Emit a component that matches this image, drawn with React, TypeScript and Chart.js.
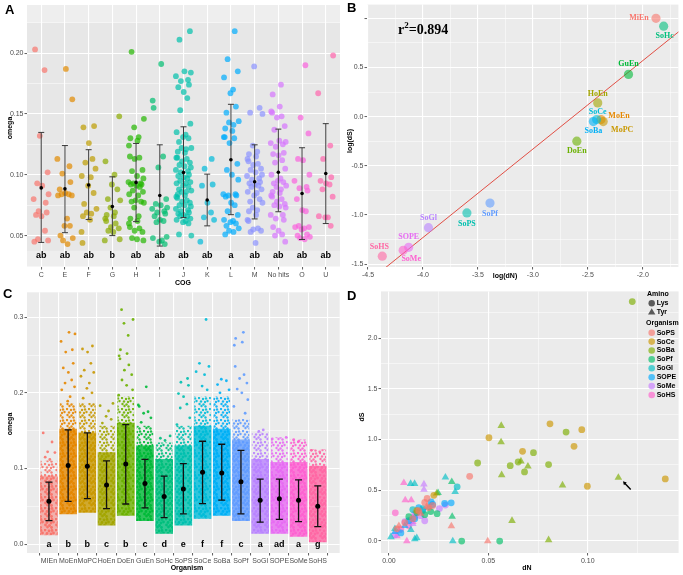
import React, { useEffect, useRef } from "react";
import { Chart, registerables } from "chart.js";
Chart.register(...registerables);

const SANS = "'Liberation Sans', Arial, Helvetica, sans-serif";
const SERIF = "'Liberation Serif', 'Times New Roman', serif";

// ---------------- Panel A data (omega by COG) ----------------
const A_CATS = ["C", "E", "F", "G", "H", "I", "J", "K", "L", "M", "No hits", "O", "U"];
const A_COLORS = ["#F8766D", "#E18A00", "#BE9C00", "#8CAB00", "#24B700", "#00BE70", "#00C1AB", "#00BBDA", "#00ACFC", "#8B93FF", "#D575FE", "#F962DD", "#FF65AC"];
const A_C = [0.203, 0.186, 0.132, 0.102, 0.093, 0.091, 0.084, 0.080, 0.077, 0.070, 0.069, 0.067, 0.066, 0.054, 0.047, 0.046, 0.045];
const A_E = [0.187, 0.162, 0.113, 0.107, 0.101, 0.094, 0.088, 0.085, 0.084, 0.084, 0.083, 0.083, 0.064, 0.058, 0.058, 0.050, 0.048, 0.046, 0.043];
const A_F = [0.140, 0.139, 0.126, 0.113, 0.110, 0.105, 0.099, 0.098, 0.091, 0.085, 0.076, 0.072, 0.069, 0.068, 0.066, 0.063, 0.053, 0.044];
const A_G = [0.148, 0.111, 0.100, 0.092, 0.088, 0.080, 0.079, 0.073, 0.069, 0.067, 0.066, 0.064, 0.062, 0.060, 0.057, 0.056, 0.054, 0.053, 0.047, 0.046];
const A_H = [0.201, 0.146, 0.139, 0.131, 0.130, 0.128, 0.124, 0.115, 0.114, 0.113, 0.104, 0.103, 0.099, 0.097, 0.094, 0.093, 0.093, 0.092, 0.092, 0.091, 0.090, 0.087, 0.086, 0.084, 0.083, 0.079, 0.078, 0.078, 0.077, 0.073, 0.066, 0.064, 0.062, 0.060, 0.057, 0.056, 0.054, 0.053, 0.048, 0.047, 0.046];
const A_I = [0.191, 0.161, 0.155, 0.115, 0.106, 0.080, 0.076, 0.075, 0.073, 0.072, 0.070, 0.069, 0.068, 0.066, 0.063, 0.062, 0.061, 0.049, 0.048, 0.046, 0.045, 0.043];
const A_J = [0.218, 0.211, 0.185, 0.184, 0.181, 0.178, 0.177, 0.174, 0.172, 0.168, 0.163, 0.153, 0.142, 0.135, 0.133, 0.131, 0.130, 0.127, 0.122, 0.122, 0.121, 0.119, 0.118, 0.114, 0.114, 0.113, 0.111, 0.110, 0.108, 0.107, 0.106, 0.104, 0.103, 0.102, 0.100, 0.099, 0.098, 0.097, 0.095, 0.094, 0.093, 0.093, 0.091, 0.090, 0.088, 0.087, 0.086, 0.086, 0.084, 0.083, 0.082, 0.081, 0.079, 0.078, 0.077, 0.075, 0.075, 0.074, 0.072, 0.071, 0.070, 0.069, 0.068, 0.067, 0.066, 0.066, 0.064, 0.063, 0.062, 0.061, 0.060, 0.051, 0.050];
const A_K = [0.113, 0.105, 0.092, 0.091, 0.077, 0.069, 0.065, 0.063, 0.045];
const A_L = [0.218, 0.195, 0.185, 0.180, 0.170, 0.167, 0.156, 0.151, 0.144, 0.143, 0.141, 0.138, 0.136, 0.131, 0.131, 0.130, 0.126, 0.109, 0.104, 0.100, 0.096, 0.084, 0.084, 0.083, 0.083, 0.082, 0.077, 0.075, 0.070, 0.067, 0.063, 0.062, 0.061, 0.060, 0.058, 0.056, 0.054, 0.053, 0.051];
const A_M = [0.189, 0.155, 0.151, 0.150, 0.124, 0.119, 0.117, 0.115, 0.113, 0.111, 0.109, 0.108, 0.105, 0.104, 0.102, 0.100, 0.099, 0.097, 0.096, 0.094, 0.093, 0.092, 0.091, 0.090, 0.088, 0.086, 0.085, 0.083, 0.080, 0.078, 0.077, 0.073, 0.071, 0.070, 0.067, 0.063, 0.062, 0.056, 0.055, 0.054, 0.053, 0.044];
const A_NOHITS = [0.174, 0.166, 0.156, 0.152, 0.151, 0.148, 0.147, 0.140, 0.137, 0.128, 0.127, 0.126, 0.125, 0.123, 0.118, 0.117, 0.116, 0.112, 0.110, 0.105, 0.100, 0.097, 0.095, 0.094, 0.093, 0.091, 0.090, 0.088, 0.086, 0.085, 0.083, 0.082, 0.080, 0.078, 0.076, 0.075, 0.074, 0.073, 0.067, 0.067, 0.064, 0.063, 0.057, 0.054, 0.051, 0.050, 0.045];
const A_O = [0.190, 0.147, 0.134, 0.113, 0.112, 0.100, 0.095, 0.090, 0.089, 0.087, 0.080, 0.071, 0.070, 0.058, 0.057, 0.057, 0.056, 0.055, 0.051, 0.050, 0.049, 0.048, 0.047];
const A_U = [0.198, 0.167, 0.124, 0.113, 0.098, 0.095, 0.093, 0.092, 0.088, 0.082, 0.066, 0.065, 0.065, 0.058];
const A_VALUES = [A_C, A_E, A_F, A_G, A_H, A_I, A_J, A_K, A_L, A_M, A_NOHITS, A_O, A_U];
const A_MEAN = [0.0892, 0.0884, 0.0916, 0.0739, 0.0937, 0.083, 0.1018, 0.0793, 0.1123, 0.0943, 0.1021, 0.0846, 0.101];
const A_LO = [0.0444, 0.0524, 0.0632, 0.050, 0.0615, 0.0414, 0.0648, 0.058, 0.0672, 0.0637, 0.0696, 0.0468, 0.0599];
const A_HI = [0.1348, 0.124, 0.1206, 0.0983, 0.1257, 0.1246, 0.1394, 0.1005, 0.1579, 0.1246, 0.1375, 0.1222, 0.142];
const A_LETTERS = ["ab", "ab", "ab", "b", "ab", "ab", "ab", "ab", "a", "ab", "ab", "ab", "ab"];
const A_Y_MAJOR = [0.05, 0.10, 0.15, 0.20];
const A_Y_MINOR = [0.025, 0.075, 0.125, 0.175, 0.225];

// ---------------- Panel B data (log dS vs log dN) ----------------
const B_ORGS = ["MiEn", "MoEn", "MoPC", "HoEn", "DoEn", "GuEn", "SoHc", "SoPS", "SoCe", "SoBa", "SoPf", "SoGl", "SOPE", "SoMe", "SoHS"];
const B_LOGDN = [-1.88, -2.38, -2.36, -2.41, -2.60, -2.13, -1.81, -3.60, -2.42, -2.45, -3.39, -3.95, -4.13, -4.18, -4.37];
const B_LOGDS = [1.00, -0.03, -0.05, 0.14, -0.25, 0.43, 0.92, -0.98, -0.03, -0.05, -0.88, -1.13, -1.33, -1.36, -1.42];
const B_FIT_X = [-4.6, -1.6];
const B_FIT_Y = [-1.77, 0.93];
const B_R2 = "0.894";
const B_X_MAJOR = [-4.5, -4.0, -3.5, -3.0, -2.5, -2.0];
const B_X_MINOR = [-4.25, -3.75, -3.25, -2.75, -2.25, -1.75];
const B_Y_MAJOR = [-1.5, -1.0, -0.5, 0.0, 0.5, 1.0];
const B_Y_MINOR = [-1.25, -0.75, -0.25, 0.25, 0.75];

// ---------------- Panel C data (omega by organism) ----------------
const C_ORGS = ["MIEn", "MoEn", "MoPC", "HoEn", "DoEn", "GuEn", "SoHc", "SoPS", "SoCe", "SoBa", "SoPf", "SoGl", "SOPE", "SoMe", "SoHS"];
const C_COLORS = ["#F8766D", "#E58700", "#C99800", "#A3A500", "#6BB100", "#00BA38", "#00BF7D", "#00C0AF", "#00BCD8", "#00B0F6", "#619CFF", "#B983FF", "#E76BF3", "#FD61D1", "#FF67A4"];
const C_BODY_LO = [0.012, 0.040, 0.042, 0.025, 0.038, 0.031, 0.014, 0.025, 0.034, 0.038, 0.031, 0.014, 0.014, 0.010, 0.003];
const C_CORE_HI = [0.090, 0.152, 0.147, 0.121, 0.160, 0.130, 0.112, 0.130, 0.156, 0.152, 0.138, 0.112, 0.108, 0.108, 0.103];
const C_BODY_HI = [0.110, 0.186, 0.186, 0.156, 0.195, 0.156, 0.134, 0.156, 0.195, 0.195, 0.165, 0.147, 0.141, 0.138, 0.125];
const C_MEAN = [0.0565, 0.104, 0.103, 0.078, 0.106, 0.080, 0.063, 0.073, 0.095, 0.094, 0.0826, 0.058, 0.060, 0.058, 0.050];
const C_LO = [0.031, 0.0565, 0.060, 0.047, 0.053, 0.048, 0.035, 0.040, 0.0535, 0.058, 0.040, 0.029, 0.0326, 0.0296, 0.023];
const C_HI = [0.082, 0.151, 0.147, 0.110, 0.158, 0.112, 0.090, 0.1065, 0.136, 0.132, 0.124, 0.086, 0.086, 0.085, 0.077];
const C_LETTERS = ["a", "b", "b", "c", "b", "c", "d", "e", "f", "f", "c", "a", "ad", "a", "g"];
const C_SP_MIEN = [0.147, 0.135, 0.122, 0.121, 0.115, 0.112];
const C_SP_MOEN = [0.280, 0.278, 0.268, 0.257, 0.254, 0.239, 0.233, 0.227, 0.217, 0.213, 0.208, 0.204, 0.195, 0.189];
const C_SP_MOPC = [0.262, 0.258, 0.254, 0.239, 0.230, 0.227, 0.222, 0.213, 0.206, 0.200, 0.193];
const C_SP_HOEN = [0.186, 0.183, 0.176, 0.169, 0.165, 0.160];
const C_SP_DOEN = [0.310, 0.297, 0.292, 0.276, 0.257, 0.252, 0.249, 0.245, 0.237, 0.230, 0.224, 0.217, 0.210, 0.204, 0.197];
const C_SP_GUEN = [0.208, 0.184, 0.182, 0.175, 0.173, 0.167, 0.161];
const C_SP_SOHC = [0.143, 0.140, 0.137];
const C_SP_SOPS = [0.219, 0.214, 0.210, 0.199, 0.195, 0.185, 0.180, 0.167, 0.158];
const C_SP_SOCE = [0.297, 0.239, 0.235, 0.228, 0.224, 0.209, 0.204];
const C_SP_SOBA = [0.218, 0.216, 0.211, 0.204, 0.200];
const C_SP_SOPF = [0.280, 0.272, 0.267, 0.263, 0.235, 0.224, 0.219, 0.213, 0.205, 0.200, 0.191, 0.182, 0.173];
const C_SP_SOGL = [0.151, 0.149];
const C_SP_SOPE = [0.141, 0.139];
const C_SP_SOME = [0.138, 0.136];
const C_SP_SOHS = [0.124, 0.122];
const C_SPARSE = [C_SP_MIEN, C_SP_MOEN, C_SP_MOPC, C_SP_HOEN, C_SP_DOEN, C_SP_GUEN, C_SP_SOHC, C_SP_SOPS, C_SP_SOCE, C_SP_SOBA, C_SP_SOPF, C_SP_SOGL, C_SP_SOPE, C_SP_SOME, C_SP_SOHS];
const C_Y_MAJOR = [0.0, 0.1, 0.2, 0.3];
const C_Y_MINOR = [0.05, 0.15, 0.25];

// ---------------- Panel D data (dS vs dN, [dN, dS, amino]) ----------------
const D_ORGS = ["SoPS", "SoCe", "SoBa", "SoPf", "SoGl", "SOPE", "SoMe", "SoHS"];
const D_COLORS = ["#F8766D", "#CD9600", "#7CAE00", "#00BE67", "#00BFC4", "#00A9FF", "#C77CFF", "#FF61CC"];
const D_SOPS = [[0.0406, 0.638, "L"], [0.004, 0.12, "L"], [0.008, 0.18, "L"], [0.012, 0.22, "L"], [0.015, 0.30, "L"], [0.018, 0.38, "L"], [0.0192, 0.419, "L"], [0.020, 0.33, "L"], [0.022, 0.35, "L"], [0.005, 0.15, "T"], [0.0314, 0.147, "T"], [0.0497, 0.0, "T"], [0.016, 0.27, "T"], [0.019, 0.34, "T"]];
const D_SOCE = [[0.139, 0.612, "L"], [0.0998, 0.54, "L"], [0.081, 1.155, "L"], [0.097, 1.097, "L"], [0.0931, 0.933, "L"], [0.0672, 0.884, "L"], [0.0503, 1.018, "L"], [0.0226, 0.45, "L"], [0.014, 0.30, "L"]];
const D_SOBA = [[0.1224, 2.36, "L"], [0.1154, 0.625, "T"], [0.0873, 0.55, "T"], [0.0803, 0.01, "T"], [0.0803, 0.753, "L"], [0.0891, 1.074, "L"], [0.0727, 0.871, "L"], [0.0699, 0.736, "T"], [0.0664, 0.786, "T"], [0.065, 0.779, "L"], [0.0682, 0.681, "L"], [0.061, 0.743, "L"], [0.0565, 1.136, "T"], [0.0564, 0.975, "T"], [0.0567, 0.651, "T"], [0.0446, 0.769, "L"], [0.0619, 0.20, "T"], [0.024, 0.47, "T"]];
const D_SOPF = [[0.0366, 0.0, "L"], [0.0557, 0.0, "L"], [0.0318, 0.24, "T"], [0.0316, 0.583, "T"], [0.0247, 0.475, "T"], [0.0242, 0.27, "L"], [0.014, 0.28, "L"], [0.010, 0.24, "L"], [0.018, 0.26, "L"], [0.021, 0.29, "L"]];
const D_SOGL = [[0.0284, 0.628, "T"], [0.0333, 0.484, "T"], [0.0321, 0.0, "T"], [0.0343, 0.534, "L"], [0.0109, 0.565, "T"], [0.0129, 0.565, "T"], [0.001, 0.04, "T"], [0.003, 0.12, "T"], [0.013, 0.02, "T"], [0.014, 0.03, "T"], [0.011, 0.11, "T"], [0.017, 0.32, "L"], [0.012, 0.31, "L"], [0.020, 0.33, "T"]];
const D_SOPE = [[0.0313, 0.376, "L"], [0.0212, 0.386, "L"], [0.006, 0.08, "L"], [0.010, 0.20, "L"], [0.015, 0.33, "L"], [0.017, 0.30, "L"], [0.022, 0.36, "L"], [0.028, 0.37, "L"], [0.013, 0.22, "L"], [0.003, 0.09, "T"], [0.008, 0.15, "T"]];
const D_SOME = [[0.0254, 0.32, "L"], [0.0284, 0.354, "L"], [0.003, 0.06, "L"], [0.008, 0.19, "L"], [0.011, 0.20, "L"], [0.016, 0.25, "L"], [0.018, 0.20, "L"], [0.013, 0.27, "L"], [0.0176, 0.56, "T"], [0.0176, 0.507, "T"], [0.005, 0.10, "T"], [0.012, 0.17, "T"]];
const D_SOHS = [[0.0032, 0.278, "L"], [0.006, 0.12, "L"], [0.010, 0.15, "L"], [0.013, 0.24, "L"], [0.0075, 0.573, "T"], [0.0082, 0.403, "T"], [0.0112, 0.403, "T"], [0.009, 0.0, "T"], [0.004, 0.05, "T"], [0.012, 0.19, "T"]];
const D_SERIES = [D_SOPS, D_SOCE, D_SOBA, D_SOPF, D_SOGL, D_SOPE, D_SOME, D_SOHS];
const D_ARROW_FROM = [0.1216, 0.507];
const D_ARROW_TO = [0.1177, 0.589];
const D_X_MAJOR = [0.0, 0.05, 0.10];
const D_X_MINOR = [0.025, 0.075, 0.125];
const D_Y_MAJOR = [0.0, 0.5, 1.0, 1.5, 2.0];
const D_Y_MINOR = [0.25, 0.75, 1.25, 1.75, 2.25];

// ---------------- styling helpers ----------------
const JITTER = [-0.26, 0.14, -0.06, 0.27, -0.17, 0.04, 0.31, -0.32, 0.19, -0.11, 0.23, -0.22, 0.01, 0.16, -0.14, 0.29, -0.29, 0.09, -0.02, 0.21, -0.19, 0.33, -0.08, 0.11, -0.24, 0.06, -0.3];
const jit = (k: number, i: number, s: number) => JITTER[(k + i * 5) % JITTER.length] * s;

function rgba(hex: string, a: number) {
  const n = parseInt(hex.slice(1), 16);
  return `rgba(${(n >> 16) & 255},${(n >> 8) & 255},${n & 255},${a})`;
}

// speckled fill imitating a dense cloud of jittered dots
const SPECKLE_DOTS = [[1, 1], [5, 2], [3, 4.5], [7, 5], [1.5, 7], [5.5, 7.5], [8, 1.5], [3.5, 9], [7.5, 9.5], [9.5, 4]];
function speckle(color: string, base: number, dotAlpha: number, r: number) {
  const c = document.createElement("canvas");
  c.width = 11;
  c.height = 11;
  const g = c.getContext("2d")!;
  if (base > 0) {
    g.fillStyle = rgba(color, base);
    g.fillRect(0, 0, 11, 11);
  }
  g.fillStyle = rgba(color, dotAlpha);
  for (const [x, y] of SPECKLE_DOTS) {
    g.beginPath();
    g.arc(x, y, r, 0, Math.PI * 2);
    g.fill();
  }
  return g.createPattern(c, "repeat");
}

type Tk = { value: number; minor?: boolean };
function tickSet(major: number[], minor: number[]): Tk[] {
  return [...major.map((v) => ({ value: v })), ...minor.map((v) => ({ value: v, minor: true }))].sort((a, b) => a.value - b.value);
}

function linAxis(o: { min: number; max: number; ticks: Tk[]; fmt: (v: number) => string; size: number; horiz: boolean }) {
  return {
    type: "linear",
    min: o.min,
    max: o.max,
    afterBuildTicks: (s: any) => {
      s.ticks = o.ticks.map((t) => ({ ...t }));
    },
    afterFit: (s: any) => {
      if (o.horiz) {
        s.height = o.size;
        s.paddingLeft = 0;
        s.paddingRight = 0;
      } else {
        s.width = o.size;
        s.paddingTop = 0;
        s.paddingBottom = 0;
      }
    },
    grid: {
      color: "#FFFFFF",
      lineWidth: (c: any) => (c.tick && c.tick.minor ? 0.5 : 1.1),
      drawTicks: true,
      tickLength: 2.5,
      tickWidth: 0.8,
      tickColor: (c: any) => (c.tick && c.tick.minor ? "rgba(0,0,0,0)" : "#333333"),
    },
    border: { display: false },
    ticks: {
      autoSkip: false,
      maxRotation: 0,
      minRotation: 0,
      padding: 1,
      color: "#4D4D4D",
      font: { family: SANS, size: 7 },
      callback: (v: number, i: number, arr: any[]) => (arr[i] && arr[i].minor ? "" : o.fmt(v)),
    },
    title: { display: false },
  };
}

function bgPlugin(fill: string, band?: { lo: number; hi: number; color: string }) {
  return {
    id: "panelBg",
    beforeDraw(chart: any) {
      const { ctx, chartArea: a, scales } = chart;
      ctx.save();
      ctx.fillStyle = fill;
      ctx.fillRect(a.left, a.top, a.right - a.left, a.bottom - a.top);
      if (band) {
        const y1 = scales.y.getPixelForValue(band.hi);
        const y2 = scales.y.getPixelForValue(band.lo);
        ctx.fillStyle = band.color;
        ctx.fillRect(a.left, y1, a.right - a.left, y2 - y1);
      }
      ctx.restore();
    },
  };
}

type TextItem = { text: string; x: number; y: number; font: string; color?: string; align?: CanvasTextAlign; baseline?: CanvasTextBaseline; rot?: number };
function textPlugin(items: TextItem[]) {
  return {
    id: "texts",
    afterDraw(chart: any) {
      const ctx = chart.ctx;
      for (const t of items) {
        ctx.save();
        ctx.translate(t.x, t.y);
        if (t.rot) ctx.rotate(t.rot);
        ctx.font = t.font;
        ctx.fillStyle = t.color || "#000";
        ctx.textAlign = t.align || "center";
        ctx.textBaseline = t.baseline || "middle";
        ctx.fillText(t.text, 0, 0);
        ctx.restore();
      }
    },
  };
}

function catTextPlugin(labels: string[], yVal: number, font: string) {
  return {
    id: "catText",
    afterDatasetsDraw(chart: any) {
      const { ctx, scales } = chart;
      ctx.save();
      ctx.font = font;
      ctx.fillStyle = "#000";
      ctx.textAlign = "center";
      ctx.textBaseline = "middle";
      labels.forEach((t, i) => ctx.fillText(t, scales.x.getPixelForValue(i), scales.y.getPixelForValue(yVal)));
      ctx.restore();
    },
  };
}

function errorBars(lo: number[], hi: number[], color: string, width: number, cap: number, order: number) {
  return {
    type: "line",
    data: lo.flatMap((l, i) => [{ x: i, y: l }, { x: i, y: hi[i] }, { x: i, y: null }]),
    borderColor: color,
    borderWidth: width,
    pointStyle: "line",
    pointRadius: cap,
    pointBorderColor: color,
    pointBorderWidth: width,
    pointBackgroundColor: color,
    spanGaps: false,
    showLine: true,
    tension: 0,
    fill: false,
    order,
  };
}

function baseOptions(pad: { left: number; right: number; top: number; bottom: number }, scales: any) {
  return {
    responsive: false,
    animation: false,
    events: [],
    layout: { padding: pad },
    plugins: { legend: { display: false }, tooltip: { enabled: false } },
    scales,
  };
}

const TITLE_FONT = `bold 7px ${SANS}`;
const PANEL_FONT = `bold 13px ${SANS}`;

// ---------------- Panel builders ----------------
function buildA() {
  const datasets: any[] = [];
  datasets.push({ type: "scatter", data: A_MEAN.map((m, i) => ({ x: i, y: m })), pointRadius: 1.8, backgroundColor: "#000", borderWidth: 0, order: 0 });
  datasets.push(errorBars(A_LO, A_HI, "#3A3A3A", 1, 3, 1));
  A_VALUES.forEach((vals, i) =>
    datasets.push({ type: "scatter", data: vals.map((v, k) => ({ x: i + jit(k, i, 1), y: v })), pointRadius: 2.9, backgroundColor: rgba(A_COLORS[i], 0.7), borderWidth: 0, order: 2 })
  );
  return {
    type: "scatter",
    data: { datasets },
    options: baseOptions({ left: 0, right: 5, top: 0, bottom: 0 }, {
      x: linAxis({ min: -0.6, max: 12.6, ticks: A_CATS.map((_, i) => ({ value: i })), fmt: (v) => A_CATS[Math.round(v)], size: 20, horiz: true }),
      y: linAxis({ min: 0.0242, max: 0.2395, ticks: tickSet(A_Y_MAJOR, A_Y_MINOR), fmt: (v) => v.toFixed(2), size: 27, horiz: false }),
    }),
    plugins: [
      bgPlugin("#EEEEEE", { lo: 0.0375, hi: 0.225, color: "#E7E7E7" }),
      catTextPlugin(A_LETTERS, 0.034, `bold 9px ${SANS}`),
      textPlugin([
        { text: "A", x: 5, y: 13.5, font: PANEL_FONT, align: "left", baseline: "alphabetic" },
        { text: "omega", x: 10, y: 128, font: TITLE_FONT, rot: -Math.PI / 2 },
        { text: "COG", x: 183, y: 283, font: TITLE_FONT },
      ]),
    ],
  };
}

const B_COLORS = C_COLORS;
const B_LABEL_OFFSET: Record<string, [number, number]> = {
  MiEn: [-17, 0], MoEn: [18, -4], MoPC: [19, 8], HoEn: [0, -9], DoEn: [0, 10], GuEn: [0, -10], SoHc: [1, 10], SoPS: [0, 11],
  SoCe: [1, -8], SoBa: [0, 9], SoPf: [0, 11], SoGl: [0, -10], SOPE: [0, -10], SoMe: [8, 9], SoHS: [-3, -9],
};

function buildB() {
  const datasets: any[] = [
    {
      type: "scatter",
      data: B_ORGS.map((_, i) => ({ x: B_LOGDN[i], y: B_LOGDS[i] })),
      pointRadius: 4.6,
      backgroundColor: B_ORGS.map((_, i) => rgba(B_COLORS[i], 0.6)),
      borderWidth: 0,
      order: 0,
    },
    {
      type: "line",
      data: B_FIT_X.map((x, i) => ({ x, y: B_FIT_Y[i] })),
      borderColor: "#E03C31",
      borderWidth: 0.9,
      pointRadius: 0,
      tension: 0,
      fill: false,
      order: 1,
    },
  ];
  const labels = {
    id: "pointLabels",
    afterDatasetsDraw(chart: any) {
      const { ctx, scales } = chart;
      ctx.save();
      ctx.font = `bold 8px ${SERIF}`;
      ctx.textAlign = "center";
      ctx.textBaseline = "middle";
      B_ORGS.forEach((name, i) => {
        const [dx, dy] = B_LABEL_OFFSET[name];
        ctx.fillStyle = B_COLORS[i];
        ctx.fillText(name, scales.x.getPixelForValue(B_LOGDN[i]) + dx, scales.y.getPixelForValue(B_LOGDS[i]) + dy);
      });
      ctx.fillStyle = "#000";
      ctx.textAlign = "left";
      ctx.textBaseline = "alphabetic";
      let x = 53;
      const y = 34;
      ctx.font = `bold 14px ${SERIF}`;
      ctx.fillText("r", x, y);
      x += ctx.measureText("r").width;
      ctx.font = `bold 9px ${SERIF}`;
      ctx.fillText("2", x, y - 6);
      x += ctx.measureText("2").width;
      ctx.font = `bold 14px ${SERIF}`;
      ctx.fillText("=" + B_R2, x, y);
      ctx.restore();
    },
  };
  return {
    type: "scatter",
    data: { datasets },
    options: baseOptions({ left: 0, right: 1, top: 0, bottom: 0 }, {
      x: linAxis({ min: -4.509, max: -1.676, ticks: tickSet(B_X_MAJOR, B_X_MINOR), fmt: (v) => v.toFixed(1), size: 20, horiz: true }),
      y: linAxis({ min: -1.53, max: 1.14, ticks: tickSet(B_Y_MAJOR, B_Y_MINOR), fmt: (v) => (v > 0.9 ? "" : v.toFixed(1)), size: 22, horiz: false }),
    }),
    plugins: [
      bgPlugin("#EBEBEB"),
      labels,
      textPlugin([
        { text: "B", x: 2, y: 12, font: PANEL_FONT, align: "left", baseline: "alphabetic" },
        { text: "log(dS)", x: 5, y: 141, font: TITLE_FONT, rot: -Math.PI / 2 },
        { text: "log(dN)", x: 160, y: 276, font: TITLE_FONT },
      ]),
    ],
  };
}

function buildC() {
  const datasets: any[] = [];
  datasets.push({ type: "scatter", data: C_MEAN.map((m, i) => ({ x: i, y: m })), pointRadius: 2.5, backgroundColor: "#000", borderWidth: 0, order: 0 });
  datasets.push(errorBars(C_LO, C_HI, "#111111", 1.3, 3.5, 1));
  C_SPARSE.forEach((vals, i) =>
    datasets.push({ type: "scatter", data: vals.map((v, k) => ({ x: i + jit(k, i, 1.15), y: v })), pointRadius: 1.4, backgroundColor: rgba(C_COLORS[i], 0.9), borderWidth: 0, order: 2 })
  );
  datasets.push({
    type: "bar",
    data: C_ORGS.map((_, i) => ({ x: i, y: [C_CORE_HI[i], C_BODY_HI[i]] })),
    backgroundColor: C_COLORS.map((c) => speckle(c, 0, 0.9, 1.2)),
    barThickness: 16,
    grouped: false,
    borderWidth: 0,
    order: 3,
  });
  datasets.push({
    type: "bar",
    data: C_ORGS.map((_, i) => ({ x: i, y: [C_BODY_LO[i], C_CORE_HI[i]] })),
    backgroundColor: C_COLORS.map((c, i) => speckle(c, i === 0 ? 0.5 : 0.8, 1, 1.4)),
    barThickness: 17,
    grouped: false,
    borderWidth: 0,
    order: 4,
  });
  return {
    type: "scatter",
    data: { datasets },
    options: baseOptions({ left: 0, right: 5, top: 2, bottom: 0 }, {
      x: linAxis({ min: -0.6, max: 14.6, ticks: C_ORGS.map((_, i) => ({ value: i })), fmt: (v) => C_ORGS[Math.round(v)], size: 22, horiz: true }),
      y: linAxis({ min: -0.0118, max: 0.333, ticks: tickSet(C_Y_MAJOR, C_Y_MINOR), fmt: (v) => v.toFixed(1), size: 27, horiz: false }),
    }),
    plugins: [
      bgPlugin("#EBEBEB"),
      catTextPlugin(C_LETTERS, 0.0, `bold 9px ${SANS}`),
      textPlugin([
        { text: "C", x: 3, y: 11, font: PANEL_FONT, align: "left", baseline: "alphabetic" },
        { text: "omega", x: 10, y: 137, font: TITLE_FONT, rot: -Math.PI / 2 },
        { text: "Organism", x: 187, y: 281, font: TITLE_FONT },
      ]),
    ],
  };
}

function buildD() {
  const datasets: any[] = D_SERIES.map((rows, i) => ({
    type: "scatter",
    data: rows.map((r: any[]) => ({ x: r[0], y: r[1], a: r[2] })),
    pointStyle: (c: any) => (c.raw && c.raw.a === "T" ? "triangle" : "circle"),
    pointRadius: (c: any) => (c.raw && c.raw.a === "T" ? 4.4 : 3.4),
    backgroundColor: rgba(D_COLORS[i], 0.65),
    borderWidth: 0,
  }));
  const legend = {
    id: "dLegend",
    afterDatasetsDraw(chart: any) {
      const { ctx, scales } = chart;
      ctx.save();
      const x1 = scales.x.getPixelForValue(D_ARROW_FROM[0]);
      const y1 = scales.y.getPixelForValue(D_ARROW_FROM[1]);
      const x2 = scales.x.getPixelForValue(D_ARROW_TO[0]);
      const y2 = scales.y.getPixelForValue(D_ARROW_TO[1]);
      const ang = Math.atan2(y2 - y1, x2 - x1);
      ctx.strokeStyle = "#000";
      ctx.fillStyle = "#000";
      ctx.lineWidth = 1.4;
      ctx.beginPath();
      ctx.moveTo(x1, y1);
      ctx.lineTo(x2 - 2 * Math.cos(ang), y2 - 2 * Math.sin(ang));
      ctx.stroke();
      ctx.beginPath();
      ctx.moveTo(x2, y2);
      ctx.lineTo(x2 - 4 * Math.cos(ang - 0.5), y2 - 4 * Math.sin(ang - 0.5));
      ctx.lineTo(x2 - 4 * Math.cos(ang + 0.5), y2 - 4 * Math.sin(ang + 0.5));
      ctx.closePath();
      ctx.fill();
      ctx.textAlign = "left";
      ctx.textBaseline = "middle";
      ctx.font = `bold 7px ${SANS}`;
      ctx.fillStyle = "#000";
      ctx.fillText("Amino", 302, 7.5);
      ctx.fillText("Organism", 301, 36.3);
      const mx = 306.7;
      ctx.fillStyle = "#5A5A5A";
      ctx.beginPath();
      ctx.arc(mx, 16.3, 3.2, 0, Math.PI * 2);
      ctx.fill();
      ctx.beginPath();
      ctx.moveTo(mx, 25.3 - 4);
      ctx.lineTo(mx + 3.7, 25.3 + 2.3);
      ctx.lineTo(mx - 3.7, 25.3 + 2.3);
      ctx.closePath();
      ctx.fill();
      ctx.fillStyle = "#000";
      ctx.fillText("Lys", 311.7, 16.3);
      ctx.fillText("Tyr", 311.7, 25.3);
      D_ORGS.forEach((name, i) => {
        const y = 45.7 + i * 8.9;
        ctx.fillStyle = rgba(D_COLORS[i], 0.65);
        ctx.beginPath();
        ctx.arc(mx, y, 3.3, 0, Math.PI * 2);
        ctx.fill();
        ctx.fillStyle = "#000";
        ctx.fillText(name, 311.7, y);
      });
      ctx.restore();
    },
  };
  return {
    type: "scatter",
    data: { datasets },
    options: baseOptions({ left: 0, right: 3, top: 3, bottom: 0 }, {
      x: linAxis({ min: -0.004, max: 0.1457, ticks: tickSet(D_X_MAJOR, D_X_MINOR), fmt: (v) => v.toFixed(2), size: 22, horiz: true }),
      y: linAxis({ min: -0.118, max: 2.46, ticks: tickSet(D_Y_MAJOR, D_Y_MINOR), fmt: (v) => v.toFixed(1), size: 36, horiz: false }),
    }),
    plugins: [
      bgPlugin("#EBEBEB"),
      legend,
      textPlugin([
        { text: "D", x: 2, y: 13, font: PANEL_FONT, align: "left", baseline: "alphabetic" },
        { text: "dS", x: 17, y: 130, font: TITLE_FONT, rot: -Math.PI / 2 },
        { text: "dN", x: 182, y: 281, font: TITLE_FONT },
      ]),
    ],
  };
}

function ChartBox({ build, left, top, width, height }: any) {
  const ref = useRef<HTMLCanvasElement | null>(null);
  useEffect(() => {
    if (!ref.current) return;
    const chart = new Chart(ref.current, build());
    return () => chart.destroy();
  }, [build]);
  return <canvas ref={ref} width={width} height={height} style={{ position: "absolute", left, top, width, height, display: "block" }} />;
}

export default function App() {
  return (
    <div style={{ position: "fixed", left: 0, top: 0, width: 683, height: 575, background: "#FFFFFF", overflow: "hidden" }}>
      <ChartBox build={buildA} left={0} top={0} width={345} height={287} />
      <ChartBox build={buildB} left={345} top={0} width={338} height={287} />
      <ChartBox build={buildC} left={0} top={287} width={345} height={288} />
      <ChartBox build={buildD} left={345} top={287} width={338} height={288} />
    </div>
  );
}
